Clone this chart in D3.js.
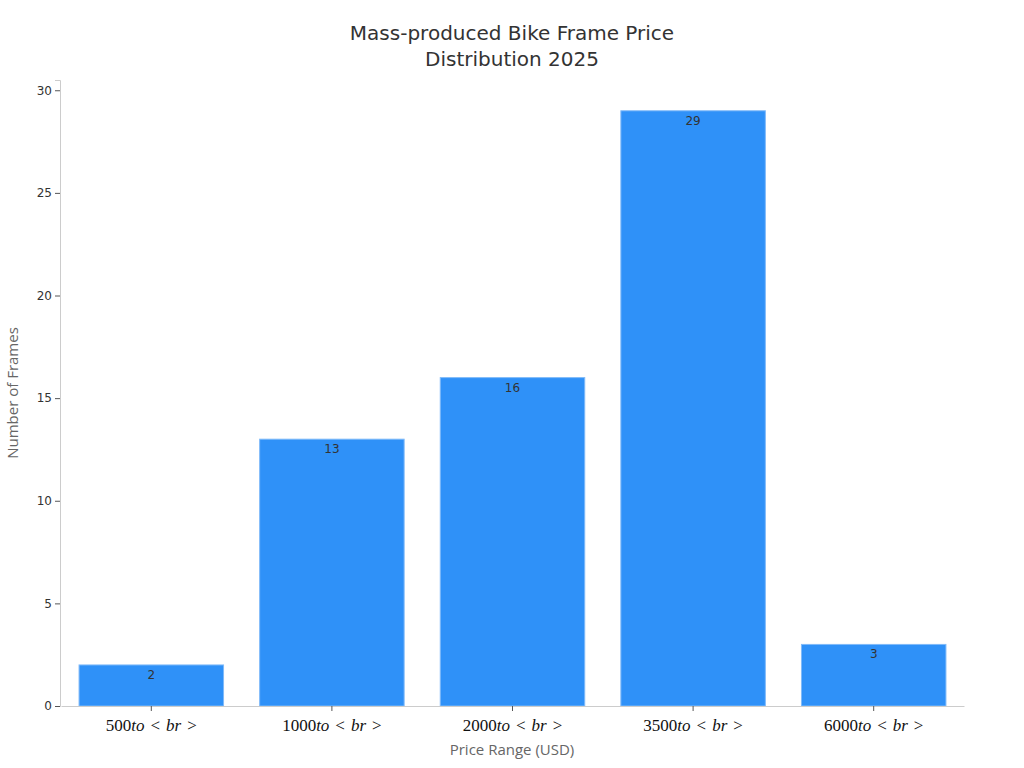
<!DOCTYPE html>
<html>
<head>
<meta charset="utf-8">
<script src="https://cdn.jsdelivr.net/npm/d3@7"></script>
<style>
  body { margin: 0; background: #fff; }
</style>
</head>
<body>
<div id="chart"></div>
<script>
// data
var priceRanges = ["500", "1000", "2000", "3500", "6000"];
var frameCounts = [2, 13, 16, 29, 3];
var yTicks = [0, 5, 10, 15, 20, 25, 30];

const width = 1024, height = 768;
const margin = {top: 80, right: 60, bottom: 62, left: 60};

var svg = d3.select("#chart")
  .append("svg")
  .attr("width", width)
  .attr("height", height);

var x_scale = d3.scaleBand()
  .domain(priceRanges)
  .range([margin.left + 1, width - margin.right])
  .paddingInner(0.2)
  .paddingOuter(0.1);

var y_scale = d3.scaleLinear()
  .domain([0, 30.5])
  .range([height - margin.bottom, margin.top]);

// title
svg.append("text")
  .attr("x", 512).attr("y", 40)
  .attr("text-anchor", "middle")
  .style("font", "20px 'DejaVu Sans'")
  .attr("fill", "#333")
  .text("Mass-produced Bike Frame Price");
svg.append("text")
  .attr("x", 512).attr("y", 66)
  .attr("text-anchor", "middle")
  .style("font", "20px 'DejaVu Sans'")
  .attr("fill", "#333")
  .text("Distribution 2025");

// y axis
var y_axis = svg.append("g")
  .attr("transform", "translate(" + margin.left + ",0)")
  .call(d3.axisLeft(y_scale).tickValues(yTicks).tickSize(5).tickPadding(3));
y_axis.select(".domain").attr("stroke", "#ccc");
y_axis.selectAll(".tick line").attr("stroke", "#555");
y_axis.selectAll(".tick text")
  .attr("fill", "#333")
  .style("font", "12px 'DejaVu Sans'");

svg.append("text")
  .attr("transform", "translate(18," + ((margin.top + height - margin.bottom) / 2) + ") rotate(-90)")
  .attr("text-anchor", "middle")
  .style("font", "15px 'Open Sans'")
  .attr("fill", "#666")
  .text("Number of Frames");

// bars
svg.selectAll("rect.bar")
  .data(frameCounts)
  .enter()
  .append("rect")
  .attr("class", "bar")
  .attr("x", (d, i) => x_scale(priceRanges[i]))
  .attr("y", d => y_scale(d))
  .attr("width", x_scale.bandwidth())
  .attr("height", d => y_scale(0) - y_scale(d))
  .attr("fill", "#2f91f8")
  .attr("stroke", "#7fbaf9")
  .attr("stroke-width", 1);

// value labels inside top of bars
svg.selectAll("text.val")
  .data(frameCounts)
  .enter()
  .append("text")
  .attr("class", "val")
  .attr("x", (d, i) => x_scale(priceRanges[i]) + x_scale.bandwidth() / 2)
  .attr("y", d => y_scale(d) + 14)
  .attr("text-anchor", "middle")
  .style("font", "12px 'DejaVu Sans'")
  .attr("fill", "#333")
  .text(d => d);

// x axis
var x_axis = svg.append("g")
  .attr("transform", "translate(0," + (height - margin.bottom) + ")")
  .call(d3.axisBottom(x_scale).tickSize(5).tickSizeOuter(0).tickFormat(""));
x_axis.select(".domain").attr("stroke", "#ccc");
x_axis.selectAll(".tick line").attr("stroke", "#555");

// math-style tick labels: "500to<br>"
x_axis.selectAll(".tick").each(function (d) {
  var t = d3.select(this).append("text")
    .attr("y", 25)
    .attr("text-anchor", "middle")
    .attr("fill", "#111")
    .style("font-family", "'Liberation Serif', serif")
    .style("font-size", "17px");
  t.append("tspan").text(d);
  t.append("tspan").style("font-style", "italic").text("to");
  t.append("tspan").attr("dx", 6).text("<");
  t.append("tspan").attr("dx", 6).style("font-style", "italic").text("br");
  t.append("tspan").attr("dx", 6).text(">");
});

svg.append("text")
  .attr("x", 512)
  .attr("y", 755)
  .attr("text-anchor", "middle")
  .style("font", "15px 'Open Sans'")
  .attr("fill", "#666")
  .text("Price Range (USD)");
</script>
</body>
</html>
